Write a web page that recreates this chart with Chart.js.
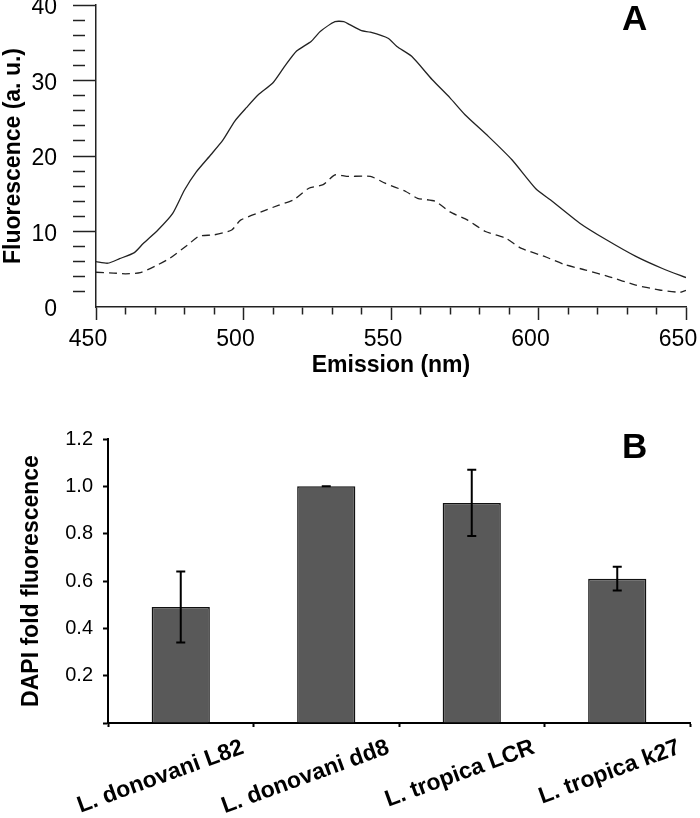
<!DOCTYPE html>
<html>
<head>
<meta charset="utf-8">
<script src="https://cdn.jsdelivr.net/npm/chart.js@4.4.1/dist/chart.umd.min.js"></script>
<style>
  body { margin: 0; background: #fff; }
  #wrap { position: relative; width: 700px; height: 818px; overflow: hidden; }
  canvas { position: absolute; left: 0; }
  #chartA { top: 0; }
  #chartB { top: 400px; }
  .panel { position: absolute; font: bold 35px 'Liberation Sans', Arial, sans-serif; line-height: 35px; color: #000; }
</style>
</head>
<body>
<div id="wrap">
  <canvas id="chartA" width="700" height="390"></canvas>
  <canvas id="chartB" width="700" height="418"></canvas>
  <div class="panel" style="left:622px;top:0px;">A</div>
  <div class="panel" style="left:622px;top:428px;">B</div>
</div>
<script>
// panel A - emission spectra
const solidNm = [450, 454, 458, 463, 466, 471, 476, 480, 484, 489, 493, 497, 501, 505, 510, 514, 518, 523, 526, 531, 534, 536, 540, 543, 549, 552, 557, 564, 570, 575, 583, 591, 599, 604, 614, 623, 633, 642, 650];
const solidVal = [6.0, 5.8, 6.4, 7.2, 8.4, 10.2, 12.4, 15.5, 17.9, 20.2, 22.1, 24.6, 26.4, 28.1, 29.7, 31.9, 33.9, 35.2, 36.5, 37.8, 37.8, 37.4, 36.6, 36.4, 35.6, 34.5, 33.2, 30.1, 27.7, 25.5, 22.6, 19.5, 15.7, 14.2, 11.1, 8.9, 6.7, 5.1, 3.9];
const dashNm = [450, 456, 460, 465, 471, 475, 481, 485, 490, 496, 499, 506, 512, 517, 522, 527, 531, 535, 543, 548, 555, 559, 565, 570, 576, 582, 589, 594, 602, 609, 616, 624, 633, 641, 648, 650];
const dashVal = [4.6, 4.5, 4.4, 4.55, 5.6, 6.45, 8.2, 9.4, 9.55, 10.2, 11.5, 12.6, 13.5, 14.2, 15.7, 16.2, 17.5, 17.3, 17.3, 16.4, 15.3, 14.4, 14.0, 12.6, 11.5, 10.0, 9.1, 7.8, 6.7, 5.6, 4.9, 4.0, 2.9, 2.25, 1.95, 2.2];

// panel B - DAPI fold fluorescence
const strains = ['L. donovani L82', 'L. donovani dd8', 'L. tropica LCR', 'L. tropica k27'];
const foldMean = [0.49, 1.0, 0.93, 0.61];
const foldErr = [0.15, 0.0, 0.14, 0.05];

Chart.defaults.font.family = "'Liberation Sans', Arial, sans-serif";
Chart.defaults.color = '#000';

const ink = '#222';

function pts(xs, ys) { return xs.map((x, i) => ({ x: x, y: ys[i] })); }

new Chart(document.getElementById('chartA'), {
    type: 'scatter',
    data: { datasets: [
        { data: pts(solidNm, solidVal), showLine: true, borderColor: ink, borderWidth: 1.3, pointRadius: 0, tension: 0.2 },
        { data: pts(dashNm, dashVal), showLine: true, borderColor: ink, borderWidth: 1.3, borderDash: [8, 5], pointRadius: 0, tension: 0.2 }
    ]},
    options: {
        responsive: false, animation: false,
        layout: { padding: { top: 5, right: 14, bottom: 11, left: 0 } },
        plugins: { legend: { display: false }, tooltip: { enabled: false } },
        scales: {
            x: {
                type: 'linear', min: 450, max: 650,
                border: { color: ink, width: 1.5 },
                grid: {
                    drawOnChartArea: false, tickLength: 13, tickColor: ink, tickWidth: 1.5,
                    tickBorderDash: c => c.tick && c.tick.value % 50 === 0 ? [] : [7, 40]
                },
                ticks: {
                    stepSize: 10, autoSkip: false, maxRotation: 0, padding: 6, labelOffset: -8,
                    font: { size: 23 }, callback: v => v % 50 === 0 ? v : ''
                },
                title: { display: true, text: 'Emission (nm)', font: { size: 23, weight: 'bold' }, padding: 0 },
                afterFit: s => { s.height = 72; s.paddingLeft = 0; s.paddingRight = 0; }
            },
            y: {
                min: 0, max: 40,
                border: { color: ink, width: 1.5 },
                grid: {
                    drawOnChartArea: false, tickLength: 23, tickWidth: 1.5,
                    tickColor: c => c.tick && c.tick.value === 0 ? 'rgba(0,0,0,0)' : ink,
                    tickBorderDash: c => c.tick && c.tick.value % 10 === 0 ? [] : [12, 40]
                },
                ticks: {
                    stepSize: 2, autoSkip: false, padding: 16, labelOffset: 3,
                    font: { size: 23 }, callback: v => v % 10 === 0 ? v : ''
                },
                title: { display: true, text: 'Fluorescence (a. u.)', font: { size: 23, weight: 'bold' }, padding: 0 },
                afterFit: s => { s.width = 96; s.paddingTop = 0; s.paddingBottom = 0; }
            }
        }
    }
});

const errorBars = {
    id: 'errorBars',
    afterDatasetsDraw(chart) {
        const { ctx, scales: { x, y } } = chart;
        ctx.save();
        ctx.strokeStyle = '#000';
        ctx.lineWidth = 2;
        foldMean.forEach((m, i) => {
            const px = x.getPixelForValue(i);
            const hi = y.getPixelForValue(m + foldErr[i]);
            const lo = y.getPixelForValue(m - foldErr[i]);
            ctx.beginPath();
            ctx.moveTo(px, hi); ctx.lineTo(px, lo);
            ctx.moveTo(px - 4.5, hi); ctx.lineTo(px + 4.5, hi);
            ctx.moveTo(px - 4.5, lo); ctx.lineTo(px + 4.5, lo);
            ctx.stroke();
        });
        ctx.restore();
    }
};

new Chart(document.getElementById('chartB'), {
    type: 'bar',
    data: { labels: strains, datasets: [
        { data: foldMean, backgroundColor: '#595959', borderColor: '#111', borderWidth: 1.5, categoryPercentage: 1, barPercentage: 0.4 }
    ]},
    options: {
        responsive: false, animation: false,
        layout: { padding: { top: 39, right: 10, bottom: 0, left: 0 } },
        plugins: { legend: { display: false }, tooltip: { enabled: false } },
        scales: {
            x: {
                border: { color: '#000', width: 2 },
                grid: { drawOnChartArea: false, tickLength: 4, tickColor: '#000', tickWidth: 2 },
                ticks: {
                    autoSkip: false, minRotation: 20, maxRotation: 20, labelOffset: 62, padding: 7,
                    font: { size: 23, weight: 'bold' }
                },
                afterFit: s => { s.height = 95; s.paddingLeft = 0; s.paddingRight = 0; }
            },
            y: {
                min: 0, max: 1.2,
                border: { color: '#000', width: 2 },
                grid: { drawOnChartArea: false, tickLength: 5, tickColor: '#000', tickWidth: 2 },
                ticks: {
                    stepSize: 0.2, padding: 10, font: { size: 20 },
                    callback: v => v === 0 ? '' : v.toFixed(1)
                },
                title: { display: true, text: 'DAPI fold fluorescence', font: { size: 23, weight: 'bold' }, padding: { top: 18, bottom: 0 } },
                afterFit: s => { s.width = 108; s.paddingTop = 0; s.paddingBottom = 0; }
            }
        }
    },
    plugins: [errorBars]
});
</script>
</body>
</html>
